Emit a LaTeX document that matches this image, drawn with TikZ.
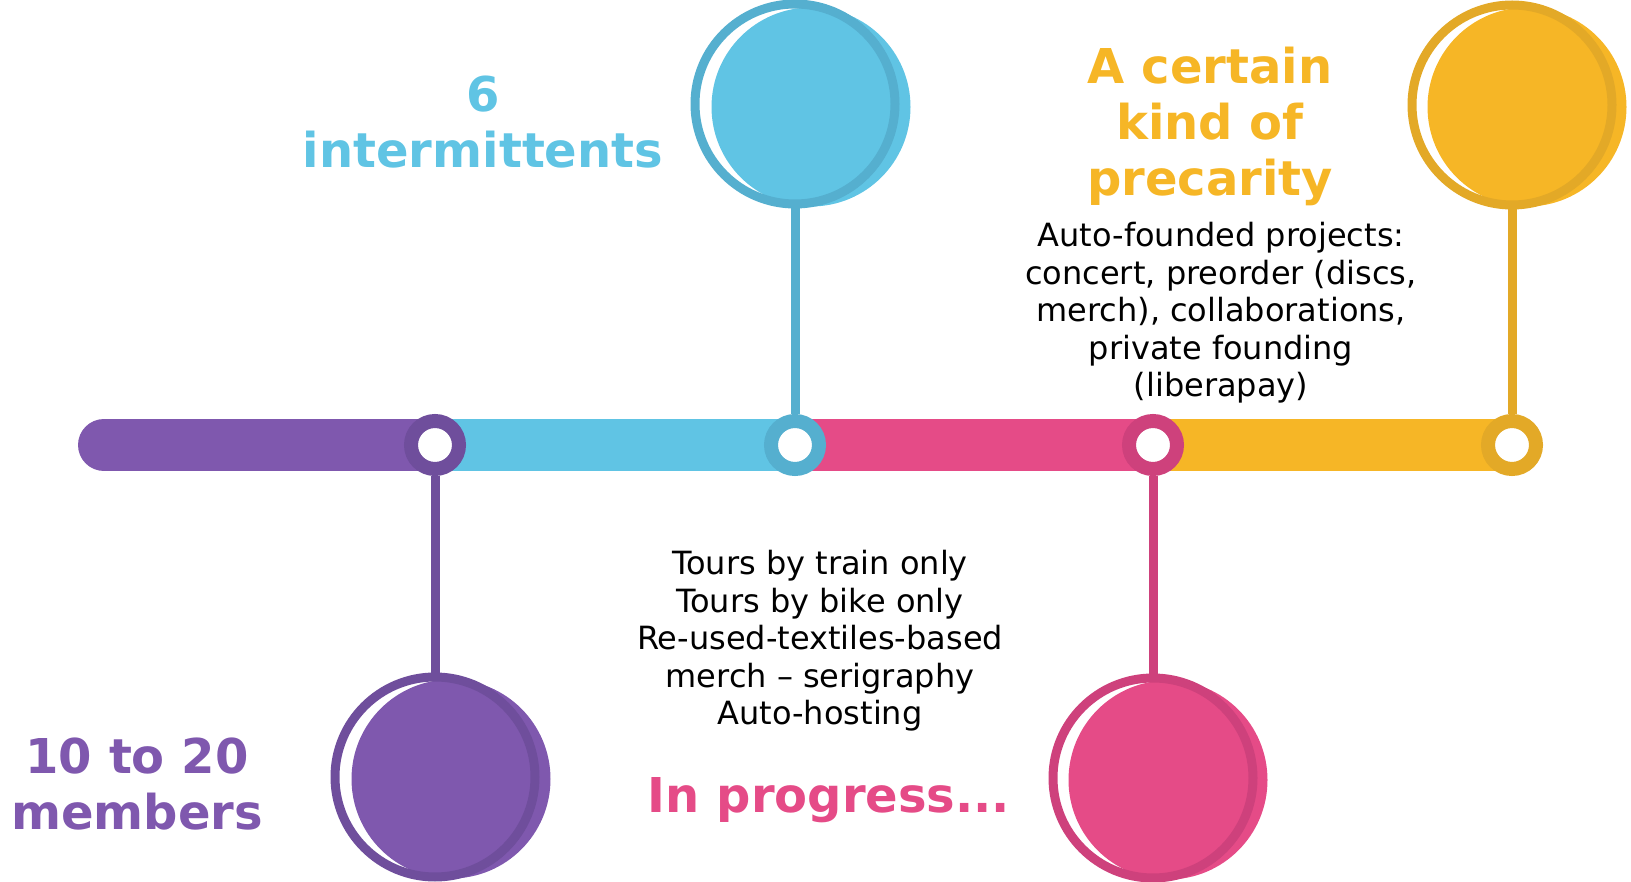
\documentclass[tikz,border=0pt]{standalone}
\usepackage{fontspec}
\setmainfont{DejaVu Sans}

\definecolor{purplefill}{HTML}{7F58AE}
\definecolor{purplering}{HTML}{6F4E9C}
\definecolor{cyanfill}{HTML}{60C4E4}
\definecolor{cyanring}{HTML}{55AFCF}
\definecolor{pinkfill}{HTML}{E54B87}
\definecolor{pinkring}{HTML}{CE417C}
\definecolor{yellowfill}{HTML}{F6B626}
\definecolor{yellowring}{HTML}{E3A927}

\begin{document}
\begin{tikzpicture}%
            [x = 1pt, y = -1pt,
             band/.style = {line width = 52pt, draw = #1},
             dot/.style = {circle, fill = white, draw = #1, line width = 14pt, minimum size = 48pt, inner sep = 0pt},
             ring/.style = {circle, draw = #1, line width = 9pt, minimum size = 200pt, inner sep = 0pt},
             disc/.style = {circle, fill = #1, minimum size = 199pt, inner sep = 0pt},
             stem/.style = {draw = #1, line width = 9pt},
             title/.style = {anchor = north, align = center, text = #1, inner sep = 0pt,
                             font = \fontsize{48}{56}\selectfont\bfseries},
             body/.style = {anchor = north, align = center, inner sep = 0pt,
                            font = \fontsize{32}{37.5}\selectfont}]
            \useasboundingbox (0,0) rectangle (1631,882);

            \coordinate (start) at (104,445);
            \coordinate (p1) at (435,445);
            \coordinate (p2) at (795,445);
            \coordinate (p3) at (1153,445);
            \coordinate (p4) at (1512,445);

            \draw [band = purplefill, line cap = round] (start) -- (p1);
            \draw [band = cyanfill] (p1) -- (p2);
            \draw [band = pinkfill] (p2) -- (p3);
            \draw [band = yellowfill] (p3) -- (p4);

            \node [dot = purplering] (dot1) at (p1) {};
            \node [dot = cyanring] (dot2) at (p2) {};
            \node [dot = pinkring] (dot3) at (p3) {};
            \node [dot = yellowring] (dot4) at (p4) {};

            \node [disc = purplefill] (disc1) at (451,779) {};
            \node [ring = purplering] (ring1) at (435,777) {};
            \node [disc = cyanfill] (disc2) at (811,107) {};
            \node [ring = cyanring] (ring2) at (795,104) {};
            \node [disc = pinkfill] (disc3) at (1168,780) {};
            \node [ring = pinkring] (ring3) at (1153,778) {};
            \node [disc = yellowfill] (disc4) at (1527,107) {};
            \node [ring = yellowring] (ring4) at (1512,105) {};

            \draw [stem = purplering] (dot1) -- (ring1);
            \draw [stem = cyanring] (dot2) -- (ring2);
            \draw [stem = pinkring] (dot3) -- (ring3);
            \draw [stem = yellowring] (dot4) -- (ring4);

            \node [title = purplefill] (members) at (137,738) {10 to 20\\members};
            \node [title = cyanfill] (intermittents) at (483,76) {6\\intermittents};
            \node [title = pinkfill, anchor = base] (progress) at (829,812) {In progress...};
            \node [title = yellowfill] (precarity) at (1210,47) {A certain\\kind of\\precarity};

            \node [body] (tours) at (820,550) {Tours by train only\\Tours by bike only\\Re-used-textiles-based\\merch -- serigraphy\\Auto-hosting};
            \node [body] (projects) at (1221,222) {Auto-founded projects:\\concert, preorder (discs,\\merch), collaborations,\\private founding\\(liberapay)};
        \end{tikzpicture}
\end{document}
